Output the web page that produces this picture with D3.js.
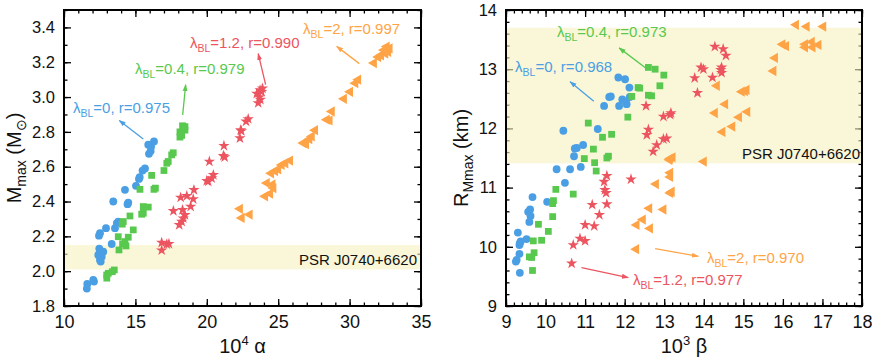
<!DOCTYPE html>
<html>
<head>
<meta charset="utf-8">
<script src="https://cdn.jsdelivr.net/npm/d3@7"></script>
<style>
  body { margin: 0; background: #fff; }
  svg { font-family: "Liberation Sans", Arial, sans-serif; }
</style>
</head>
<body>
<svg id="chart" width="872" height="363"></svg>
<script>
// left panel: 10^4 alpha vs M_max
const mmaxLam0 = [[16.3,2.745],[15.9,2.726],[16.1,2.716],[16.07,2.69],[15.95,2.674],[15.67,2.59],[15.5,2.578],[15.3,2.54],[15.25,2.53],[15.04,2.49],[14.27,2.467],[13.45,2.40],[14.5,2.394],[14.45,2.385],[13.8,2.285],[13.7,2.276],[13.57,2.247],[12.94,2.247],[12.52,2.218],[12.45,2.204],[13.34,2.156],[12.47,2.13],[12.52,2.11],[12.75,2.112],[12.4,2.093],[12.64,2.083],[12.52,2.064],[12.57,2.055],[12.1,1.94],[12.05,1.95],[11.63,1.927],[11.6,1.90]]
const mmaxLam04 = [[18.3,2.835],[18.47,2.83],[18.47,2.81],[18.12,2.80],[18.24,2.78],[18.12,2.77],[17.65,2.68],[17.54,2.668],[17.3,2.63],[17.2,2.62],[17.0,2.578],[16.14,2.55],[16.3,2.47],[16.4,2.477],[15.32,2.47],[15.55,2.371],[15.9,2.368],[15.55,2.333],[15.44,2.327],[14.62,2.317],[14.15,2.285],[14.08,2.27],[14.85,2.237],[13.8,2.198],[14.5,2.195],[14.27,2.17],[14.1,2.157],[14.34,2.145],[13.85,2.122],[13.52,2.007],[13.38,1.997],[13.1,1.988],[12.99,1.978],[13.0,1.96]]
const mmaxLam12 = [[23.9,3.05],[23.73,3.04],[23.84,3.03],[23.5,3.02],[23.68,3.0],[23.75,2.985],[23.6,2.966],[22.9,2.874],[22.75,2.86],[22.37,2.81],[22.42,2.805],[22.32,2.764],[21.2,2.72],[21.16,2.663],[21.25,2.655],[20.18,2.63],[20.46,2.553],[20.34,2.534],[20.1,2.515],[20.0,2.519],[19.1,2.467],[18.6,2.432],[19.05,2.414],[18.17,2.423],[18.87,2.371],[18.3,2.352],[17.66,2.346],[18.47,2.323],[18.35,2.304],[18.24,2.285],[18.07,2.266],[16.84,2.164],[17.2,2.155],[17.35,2.157],[16.84,2.12]]
const mmaxLam2 = [[32.6,3.29],[32.8,3.28],[32.4,3.27],[32.7,3.26],[32.5,3.25],[32.2,3.24],[32.0,3.23],[31.7,3.195],[30.6,3.1],[30.4,3.08],[30.03,3.03],[29.6,2.99],[28.75,2.917],[28.4,2.87],[28.6,2.866],[27.58,2.81],[27.35,2.774],[27.18,2.758],[26.76,2.736],[26.95,2.73],[25.83,2.635],[25.5,2.62],[25.24,2.61],[25.0,2.585],[24.78,2.575],[24.5,2.562],[24.2,2.506],[24.6,2.498],[24.66,2.477],[24.43,2.445],[24.08,2.43],[22.32,2.358],[22.44,2.306],[23.0,2.325]]

// right panel: 10^3 beta vs R_Mmax
const rmaxLam0 = [[11.84,12.86],[12.01,12.83],[12.12,12.69],[11.65,12.54],[11.61,12.53],[11.48,12.38],[11.94,12.49],[11.86,12.38],[12.05,12.41],[12.13,12.53],[12.03,12.45],[10.45,11.96],[11.32,11.99],[10.95,11.72],[10.79,11.67],[10.74,11.66],[10.72,11.53],[10.89,11.35],[10.62,11.31],[10.28,11.31],[10.49,11.08],[9.67,10.84],[10.04,10.76],[9.56,10.59],[9.61,10.63],[9.62,10.52],[9.59,10.42],[9.3,10.24],[9.52,10.13],[9.37,10.09],[9.35,10.06],[9.34,10.03],[9.34,9.88],[9.27,9.78],[9.25,9.75],[9.35,9.56]]
const rmaxLam04 = [[12.6,13.03],[12.77,13.0],[12.99,12.9],[12.89,12.72],[12.34,12.69],[12.38,12.68],[12.6,12.56],[12.68,12.55],[12.18,12.54],[12.08,12.19],[11.08,12.09],[11.67,11.9],[11.44,11.85],[11.21,11.65],[11.59,11.53],[11.55,11.5],[10.98,11.49],[11.24,11.42],[11.28,11.28],[10.26,10.97],[10.7,10.89],[10.2,10.78],[10.18,10.73],[10.18,10.51],[9.82,10.38],[10.07,10.26],[9.69,10.1],[9.9,10.11],[9.71,9.9],[9.59,9.83],[9.65,9.82],[9.67,9.6]]
const rmaxLam12 = [[14.28,13.38],[14.49,13.34],[14.56,13.23],[13.93,13.03],[13.99,13.0],[14.45,13.03],[14.43,12.99],[14.45,12.94],[13.77,12.85],[14.22,12.86],[13.84,12.6],[12.54,12.38],[12.98,12.2],[13.15,12.23],[13.17,12.26],[12.6,11.98],[12.56,11.89],[12.98,11.82],[13.06,11.83],[12.81,11.72],[12.72,11.61],[12.16,11.14],[11.55,11.2],[11.48,11.1],[11.5,10.96],[11.53,10.91],[11.18,10.71],[11.55,10.72],[11.36,10.54],[11.0,10.37],[11.23,10.35],[10.87,10.14],[11.0,10.1],[10.7,10.03],[10.66,9.72]]
const rmaxLam2 = [[16.33,13.75],[16.6,13.72],[17.02,13.72],[15.99,13.42],[16.08,13.39],[16.56,13.42],[16.56,13.37],[16.73,13.46],[16.75,13.37],[16.9,13.41],[15.8,13.19],[15.76,12.97],[14.33,12.72],[14.96,12.62],[15.04,12.63],[15.08,12.65],[14.54,12.41],[14.28,12.26],[15.1,12.28],[14.89,12.19],[14.72,12.03],[14.47,11.94],[14.0,11.44],[13.21,11.51],[13.13,11.47],[13.15,11.49],[13.15,11.25],[13.15,11.18],[12.79,11.06],[13.19,10.93],[13.15,10.91],[12.62,10.65],[12.98,10.63],[12.46,10.46],[12.3,10.37],[12.64,10.31],[12.29,9.96]]

// axes
const alphaTicks = [10, 15, 20, 25, 30, 35]
const mmaxTicks = [1.8, 2.0, 2.2, 2.4, 2.6, 2.8, 3.0, 3.2, 3.4]
const betaTicks = [9, 10, 11, 12, 13, 14, 15, 16, 17, 18]
const rmaxTicks = [9, 10, 11, 12, 13, 14]

// PSR J0740+6620 bands
const psrMass = [2.01, 2.15]
const psrRadius = [11.41, 13.7]

// correlation labels: text, start of text, arrow tail, arrow head
const mmaxNotes = [
  { lam: '0',   r: '0.975', pos: [10.63, 2.91],  from: [15.55, 2.759], to: [13.87, 2.866] },
  { lam: '0.4', r: '0.979', pos: [14.97, 3.134], from: [18.31, 2.898], to: [18.52, 3.071] },
  { lam: '1.2', r: '0.990', pos: [18.82, 3.284], from: [24.12, 3.071], to: [23.6, 3.249] },
  { lam: '2',   r: '0.997', pos: [26.74, 3.364], from: [30.68, 3.192], to: [29.1, 3.291] }
]
const rmaxNotes = [
  { lam: '0',   r: '0.968', pos: [9.23, 12.96],  from: [11.22, 12.46], to: [10.62, 12.79] },
  { lam: '0.4', r: '0.973', pos: [10.29, 13.54], from: [12.54, 13.015], to: [11.86, 13.36] },
  { lam: '1.2', r: '0.977', pos: [12.21, 9.35],  from: [10.91, 9.65], to: [12.09, 9.48] },
  { lam: '2',   r: '0.970', pos: [14.08, 9.73],  from: [12.77, 9.97], to: [13.86, 9.84] }
]

const colors = ['#4a9fe4', '#58c94e', '#ec5560', '#ffa446']
const symbols = [d3.symbolCircle, d3.symbolSquare, d3.symbolStar, d3.symbolTriangle]
const symSizes = [48, 46, 40, 46]

const svg = d3.select('#chart')

const defs = svg.append('defs')
colors.forEach((c, i) => {
  defs.append('marker')
    .attr('id', 'arr' + i)
    .attr('viewBox', '0 0 10 10')
    .attr('refX', 9).attr('refY', 5)
    .attr('markerWidth', 7).attr('markerHeight', 7)
    .attr('markerUnits', 'userSpaceOnUse')
    .attr('orient', 'auto')
    .append('path')
    .attr('d', 'M0,1.5L10,5L0,8.5Z')
    .attr('fill', c)
})

const drawPanel = (cfg) => {
  const x = d3.scaleLinear().domain(cfg.xDomain).range([cfg.left, cfg.right])
  const y = d3.scaleLinear().domain(cfg.yDomain).range([cfg.bottom, cfg.top])
  const g = svg.append('g')

  const xMinor = d3.range(cfg.xDomain[0], cfg.xDomain[1] + 1e-9, cfg.xMinor)
  const yMinor = d3.range(cfg.yDomain[0], cfg.yDomain[1] + 1e-9, cfg.yMinor)

  // ticks, all inward
  const addAxis = (axis, tr, cls) => {
    const a = g.append('g').attr('class', cls).attr('transform', tr).call(axis)
    a.select('.domain').remove()
    a.selectAll('line').attr('stroke', '#000').attr('stroke-width', 1.3)
    return a
  }
  addAxis(d3.axisBottom(x).tickValues(xMinor).tickSize(-3.5).tickFormat(''), `translate(0,${cfg.bottom})`, 'minor')
  addAxis(d3.axisTop(x).tickValues(xMinor).tickSize(-3.5).tickFormat(''), `translate(0,${cfg.top})`, 'minor')
  addAxis(d3.axisLeft(y).tickValues(yMinor).tickSize(-3.5).tickFormat(''), `translate(${cfg.left},0)`, 'minor')
  addAxis(d3.axisRight(y).tickValues(yMinor).tickSize(-3.5).tickFormat(''), `translate(${cfg.right},0)`, 'minor')

  const bx = addAxis(d3.axisBottom(x).tickValues(cfg.xTicks).tickSize(-7).tickPadding(9).tickFormat(d3.format('d')), `translate(0,${cfg.bottom})`, 'major')
  bx.selectAll('text').attr('font-size', '18px').attr('fill', '#111')
  addAxis(d3.axisTop(x).tickValues(cfg.xTicks).tickSize(-7).tickFormat(''), `translate(0,${cfg.top})`, 'major')
  const ly = addAxis(d3.axisLeft(y).tickValues(cfg.yTicks).tickSize(-7).tickPadding(9).tickFormat(cfg.yFormat), `translate(${cfg.left},0)`, 'major')
  ly.selectAll('text').attr('font-size', '16.5px').attr('fill', '#111')
  addAxis(d3.axisRight(y).tickValues(cfg.yTicks).tickSize(-7).tickFormat(''), `translate(${cfg.right},0)`, 'major')
  svg.selectAll('.tick text').attr('font-family', '"Liberation Sans", Arial, sans-serif')

  // PSR band, drawn over the ticks
  g.append('rect')
    .attr('x', cfg.left)
    .attr('width', cfg.right - cfg.left)
    .attr('y', y(cfg.band[1]))
    .attr('height', y(cfg.band[0]) - y(cfg.band[1]))
    .attr('fill', '#f7f0be')
    .attr('opacity', 0.6)

  g.append('rect')
    .attr('x', cfg.left).attr('y', cfg.top)
    .attr('width', cfg.right - cfg.left).attr('height', cfg.bottom - cfg.top)
    .attr('fill', 'none').attr('stroke', '#000').attr('stroke-width', 2)

  g.append('text')
    .attr('x', x(cfg.psrPos[0])).attr('y', y(cfg.psrPos[1]))
    .attr('text-anchor', 'end')
    .attr('font-size', '15px').attr('fill', '#111')
    .text('PSR J0740+6620')

  // points
  cfg.series.forEach((s, i) => {
    g.append('g').selectAll('path')
      .data(s)
      .enter()
      .append('path')
      .attr('d', d3.symbol().type(symbols[i]).size(symSizes[i]))
      .attr('transform', d => `translate(${x(d[0])},${y(d[1])})` + (i === 3 ? ' rotate(-90)' : ''))
      .attr('fill', colors[i])
  })

  // correlation labels with arrows
  cfg.notes.forEach((n, i) => {
    g.append('line')
      .attr('x1', x(n.from[0])).attr('y1', y(n.from[1]))
      .attr('x2', x(n.to[0])).attr('y2', y(n.to[1]))
      .attr('stroke', colors[i]).attr('stroke-width', 1.3)
      .attr('marker-end', `url(#arr${i})`)
    const t = g.append('text')
      .attr('x', x(n.pos[0])).attr('y', y(n.pos[1]))
      .attr('font-size', '15px').attr('fill', colors[i])
    t.append('tspan').text('λ')
    t.append('tspan').attr('font-size', '10.5px').attr('dy', 4).text('BL')
    t.append('tspan').attr('dy', -4).text(`=${n.lam}, r=${n.r}`)
  })

  // axis titles
  const xt = g.append('text')
    .attr('x', (cfg.left + cfg.right) / 2).attr('y', 353)
    .attr('text-anchor', 'middle').attr('font-size', '20px').attr('fill', '#111')
  xt.append('tspan').text('10')
  xt.append('tspan').attr('font-size', '13px').attr('dy', -8).text(cfg.xPow)
  xt.append('tspan').attr('dy', 8).text(' ' + cfg.xSym)

  const yt = g.append('text')
    .attr('transform', `translate(${cfg.yTitleX},${(cfg.top + cfg.bottom) / 2}) rotate(-90)`)
    .attr('text-anchor', 'middle').attr('font-size', '20px').attr('fill', '#111')
  cfg.yTitle(yt)
}

drawPanel({
  left: 64, right: 421, top: 10, bottom: 306,
  xDomain: [10, 35], yDomain: [1.8, 3.5],
  xTicks: alphaTicks, yTicks: mmaxTicks, xMinor: 1, yMinor: 0.1,
  yFormat: d3.format('.1f'),
  band: psrMass, psrPos: [34.72, 2.036],
  series: [mmaxLam0, mmaxLam04, mmaxLam12, mmaxLam2],
  notes: mmaxNotes,
  xPow: '4', xSym: 'α',
  yTitleX: 21,
  yTitle: t => {
    t.append('tspan').text('M')
    t.append('tspan').attr('font-size', '14px').attr('dy', 5).text('max')
    t.append('tspan').attr('dy', -5).text(' (M')
    t.append('tspan').attr('font-size', '14px').attr('dy', 5).text('⊙')
    t.append('tspan').attr('dy', -5).text(')')
  }
})

drawPanel({
  left: 506, right: 862, top: 10, bottom: 306,
  xDomain: [9, 18], yDomain: [9, 14],
  xTicks: betaTicks, yTicks: rmaxTicks, xMinor: 0.2, yMinor: 0.2,
  yFormat: d3.format('d'),
  band: psrRadius, psrPos: [17.95, 11.48],
  series: [rmaxLam0, rmaxLam04, rmaxLam12, rmaxLam2],
  notes: rmaxNotes,
  xPow: '3', xSym: 'β',
  yTitleX: 468,
  yTitle: t => {
    t.append('tspan').text('R')
    t.append('tspan').attr('font-size', '14px').attr('dy', 5).text('Mmax')
    t.append('tspan').attr('dy', -5).text(' (km)')
  }
})
</script>
</body>
</html>
